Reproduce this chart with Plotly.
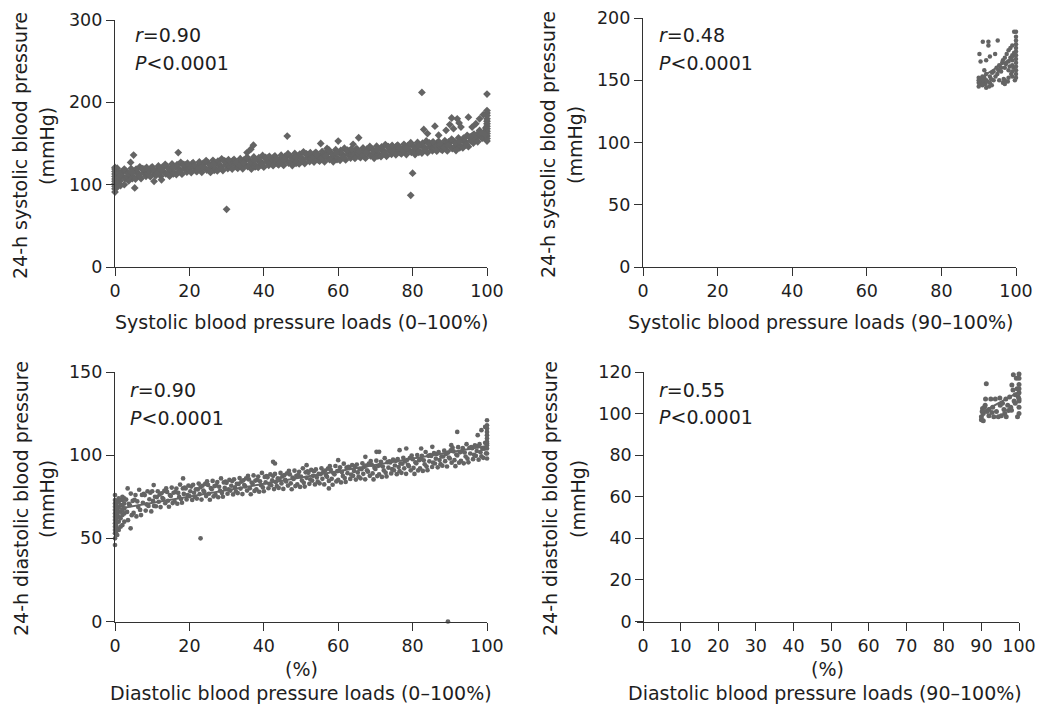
import plotly.graph_objects as go

# ---------------- data ----------------
# Panel A: systolic load 0-100 % vs 24-h SBP  (load %, mmHg)
sys_all = [
(0,91),(0,95),(0,98),(0,101),(0,104),(0,107),(0,110),(0,113),(0,116),(0,119),(0,121),
(0.3,100),(0.3,106),(0.3,112),(0.3,118),(0.6,97),(0.6,103),(0.6,109),(0.6,115),(0.6,120),
(1,114.1),(1.33,104.4),(1.67,115.2),(1.2,109),(1.5,99),
(2,110.6),(2.33,116.9),(2.67,107.3),(2.5,100),
(3,116.1),(3.33,109.2),(3.67,104.6),
(4,113.0),(4.33,119.5),(4.67,107.4),(4.2,127),
(5,108.8),(5.33,116.1),(5.67,118.7),(5,136),(5.3,96),
(6,115.2),(6.33,112.1),(6.67,121.7),
(7,107.5),(7.33,118.7),(7.67,114.4),
(8,118.7),(8.33,110.1),(8.67,113.5),
(9,112.7),(9.33,116.4),(9.67,120.1),
(10,121.7),(10.33,115.5),(10.67,112.2),(10.5,104),
(11,111.0),(11.33,118.2),(11.67,122.7),
(12,120.0),(12.33,110.3),(12.67,121.1),(12.5,106),
(13,116.4),(13.33,122.7),(13.67,113.1),
(14,121.8),(14.33,114.9),(14.67,110.3),
(15,118.6),(15.33,125.1),(15.67,113.0),
(16,114.3),(16.33,121.6),(16.67,124.2),
(17,120.6),(17.33,117.5),(17.67,127.1),(17,139),
(18,112.8),(18.33,124.0),(18.67,119.7),
(19,123.9),(19.33,115.3),(19.67,118.7),
(20,117.8),(20.33,121.5),(20.67,125.2),
(21,126.6),(21.33,120.4),(21.67,117.1),
(22,115.8),(22.33,123.0),(22.67,127.5),
(23,124.7),(23.33,115.0),(23.67,125.8),
(24,121.0),(24.33,127.3),(24.67,117.7),
(25,126.4),(25.33,119.5),(25.67,114.9),
(26,123.1),(26.33,129.6),(26.67,117.5),
(27,118.7),(27.33,126.0),(27.67,128.6),
(28,124.9),(28.33,121.8),(28.67,131.4),
(29,117.1),(29.33,128.3),(29.67,124.0),
(30,128.1),(30.33,119.5),(30.67,122.9),(30,70),
(31,121.9),(31.33,125.6),(31.67,129.3),
(32,130.7),(32.33,124.5),(32.67,121.2),
(33,119.9),(33.33,127.1),(33.67,131.6),
(34,128.9),(34.33,119.2),(34.67,130.0),
(35,125.1),(35.33,131.4),(35.67,121.8),(35.5,139),
(36,130.5),(36.33,123.6),(36.67,119.0),(36.5,143),
(37,127.2),(37.33,133.7),(37.67,121.6),(37.2,148),
(38,122.9),(38.33,130.2),(38.67,132.8),
(39,129.0),(39.33,125.9),(39.67,135.5),
(40,121.2),(40.33,132.4),(40.67,128.1),
(41,132.2),(41.33,123.6),(41.67,127.0),
(42,126.1),(42.33,129.8),(42.67,133.5),
(43,134.9),(43.33,128.7),(43.67,125.4),
(44,124.1),(44.33,131.3),(44.67,135.8),
(45,133.1),(45.33,123.4),(45.67,134.2),
(46,129.4),(46.33,135.7),(46.67,126.1),(46.3,159),
(47,134.8),(47.33,127.9),(47.67,123.3),
(48,131.5),(48.33,138.0),(48.67,125.9),
(49,127.2),(49.33,134.5),(49.67,137.1),
(50,133.4),(50.33,130.3),(50.67,139.9),
(51,125.6),(51.33,136.8),(51.67,132.5),
(52,136.6),(52.33,128.0),(52.67,131.4),
(53,130.5),(53.33,134.2),(53.67,137.9),
(54,139.3),(54.33,133.1),(54.67,129.8),
(55,128.5),(55.33,135.7),(55.67,140.2),(55.3,150),
(56,137.5),(56.33,127.8),(56.67,138.6),
(57,133.8),(57.33,140.1),(57.67,130.5),(57,144),
(58,139.2),(58.33,132.3),(58.67,127.7),
(59,135.9),(59.33,142.4),(59.67,130.3),
(60,131.6),(60.33,138.9),(60.67,141.5),(60,153),
(61,137.8),(61.33,134.7),(61.67,144.3),
(62,130.0),(62.33,141.2),(62.67,136.9),
(63,141.0),(63.33,132.4),(63.67,135.8),
(64,134.9),(64.33,138.6),(64.67,142.3),(64,149),
(65,143.7),(65.33,137.5),(65.67,134.2),(65.5,157),
(66,132.9),(66.33,140.1),(66.67,144.6),
(67,141.9),(67.33,132.2),(67.67,143.0),
(68,138.2),(68.33,144.5),(68.67,134.9),
(69,143.6),(69.33,136.7),(69.67,132.1),
(70,140.3),(70.33,146.8),(70.67,134.7),
(71,136.0),(71.33,143.3),(71.67,145.9),
(72,142.2),(72.33,139.1),(72.67,148.7),
(73,134.4),(73.33,145.6),(73.67,141.3),
(74,145.4),(74.33,136.8),(74.67,140.2),
(75,139.3),(75.33,143.0),(75.67,146.7),
(76,148.1),(76.33,141.9),(76.67,138.6),
(77,137.3),(77.33,144.5),(77.67,149.0),
(78,146.3),(78.33,136.6),(78.67,147.4),
(79,142.6),(79.33,148.9),(79.67,139.3),(79.5,87),
(80,148.0),(80.33,141.1),(80.67,136.5),(80,114),
(81,144.7),(81.33,151.2),(81.67,139.1),
(82,140.4),(82.33,147.7),(82.67,150.3),(82.5,212),
(83,146.6),(83.33,143.5),(83.67,153.1),(83,167),
(84,138.8),(84.33,150.0),(84.67,145.7),(84,162),
(85,149.8),(85.33,141.2),(85.67,144.6),
(86,143.7),(86.33,147.4),(86.67,151.1),(86,171),
(87,152.5),(87.33,146.3),(87.67,143.0),(87,160),
(88,141.7),(88.33,148.9),(88.67,153.4),
(89,150.7),(89.33,141.0),(89.67,151.8),(89,166),
(90,147.0),(90.33,153.3),(90.67,143.7),(90,173),(90.5,181),
(91,153.0),(91.33,146.1),(91.67,141.5),(91,168),
(92,150.3),(92.33,156.8),(92.67,144.7),(92,180),(92.5,175),
(93,146.6),(93.33,153.9),(93.67,156.5),(93,170),
(94,153.4),(94.33,150.3),(94.67,159.9),
(95,146.2),(95.33,157.4),(95.67,153.1),(95,182),
(96,159.2),(96.33,150.6),(96.67,154.0),(96,170),
(97,155.1),(97.33,158.8),(97.67,162.5),(97,174),
(98,165.9),(98.33,159.7),(98.67,156.4),(98,180),
(99,157.1),(99.33,164.3),(99.67,168.8),(99,185),
(100,153),(100,156),(100,159),(100,162),(100,165),(100,168),(100,171),(100,174),
(100,177),(100,180),(100,184),(100,187),(100,190),(100,210),
(1.5,111.4),(2.5,118.9),(3.5,113.7),(4.5,115.4),(5.5,106.8),(6.5,110.4),(7.5,119.4),(8.5,120.9),
(9.5,109.7),(10.5,118.2),(11.5,114.5),(12.5,117.3),(13.5,124.7),(14.5,119.4),(15.5,121.0),(16.5,112.3),
(17.5,115.8),(18.5,124.7),(19.5,126.1),(20.5,114.8),(21.5,123.1),(22.5,119.3),(23.5,122.0),(24.5,129.3),
(25.5,124.0),(26.5,125.5),(27.5,116.7),(28.5,120.1),(29.5,129.0),(30.5,130.3),(31.5,118.9),(32.5,127.2),
(33.5,123.4),(34.5,126.2),(35.5,133.4),(36.5,128.1),(37.5,129.6),(38.5,120.9),(39.5,124.2),(40.5,133.1),
(41.5,134.4),(42.5,123.1),(43.5,131.4),(44.5,127.6),(45.5,130.4),(46.5,137.7),(47.5,132.4),(48.5,133.9),
(49.5,125.2),(50.5,128.6),(51.5,137.5),(52.5,138.8),(53.5,127.5),(54.5,135.8),(55.5,132.0),(56.5,134.8),
(57.5,142.1),(58.5,136.8),(59.5,138.3),(60.5,129.6),(61.5,133.0),(62.5,141.9),(63.5,143.2),(64.5,131.9),
(65.5,140.2),(66.5,136.4),(67.5,139.2),(68.5,146.5),(69.5,141.2),(70.5,142.7),(71.5,134.0),(72.5,137.4),
(73.5,146.3),(74.5,147.6),(75.5,136.3),(76.5,144.6),(77.5,140.8),(78.5,143.6),(79.5,150.9),(80.5,145.6),
(81.5,147.1),(82.5,138.4),(83.5,141.8),(84.5,150.7),(85.5,152.0),(86.5,140.7),(87.5,149.0),(88.5,145.2),
(89.5,148.0),(90.5,155.3),(91.5,150.6),(92.5,152.7),(93.5,144.6),(94.5,148.6),(95.5,158.1),(96.5,161.4),
(97.5,152.1),(98.5,162.4),(99.5,160.6),
]

# Panel B: systolic load 90-100 %
sys_high = [
(90,145),(90,148),(90,150),(90,152),(90.3,147),(90.5,151),(90.5,165),(90.2,171),(90.8,149),
(91,146),(91,150),(91,153),(91.1,181),(91.3,148),(91.5,152),(91.5,158),(91.8,147),
(92,144),(92,150),(92,155),(92,166),(92.3,149),(92.6,181),(92.6,178),(92.8,145),
(93,148),(93,153),(93,169),(93.3,151),(93.5,146),(93.6,156),
(94,150),(94,157),(94.4,171),(94.5,153),(94.8,160),
(95.1,182),(95,155),(95.3,158),(95.5,162),(95.5,150),
(96,157),(96,160),(96.3,164),(96.5,148),(96.7,151),(96.5,166),
(97,147),(97,150),(97,160),(97,168),(97.3,163),(97.5,171),(97.8,149),
(98,152),(98,158),(98,165),(98,174),(98.3,161),(98.5,168),(98.5,176),(98.7,155),
(99,153),(99,157),(99,162),(99,166),(99,170),(99,178),(99.3,160),(99.5,172),(99.5,189),(99.7,150),
(100,152),(100,155),(100,158),(100,161),(100,164),(100,167),(100,170),(100,173),
(100,176),(100,179),(100,182),(100,185),(100,189),
]

# Panel C: diastolic load 0-100 % vs 24-h DBP
dia_all = [
(0,46),(0,50),(0,53),(0,55),(0,57),(0,59),(0,61),(0,63),(0,65),(0,67),(0,69),(0,71),(0,73),(0,76),
(0.3,54),(0.3,58),(0.3,62),(0.3,66),(0.3,70),
(0.6,52),(0.6,56),(0.6,60),(0.6,64),(0.6,68),(0.6,72),
(1,55),(1,60),(1,63),(1,66),(1,69),(1,72),(1,74),
(1.5,57),(1.5,62),(1.5,66),(1.5,70),(1.5,73),
(2,58),(2,64),(2,67),(2,70),(2,73),(2,75),
(2.5,60),(2.5,65),(2.5,68),(2.5,71),(2.5,74),
(3,73.3),(3.25,65.9),(3.5,60.9),(3.75,70.7),(3.4,80),
(4,69.9),(4.25,76.9),(4.5,63.9),(4.75,72.5),(4.2,56),
(5,65.3),(5.25,73.2),(5.5,76.0),(5.75,63.2),
(6,72.2),(6.25,68.9),(6.5,79.2),(6.75,67.1),
(7,64.0),(7.25,76.1),(7.5,71.4),(7.75,76.8),
(8,76.0),(8.25,66.7),(8.5,70.4),(8.75,78.3),
(9,69.5),(9.25,73.5),(9.5,77.4),(9.75,66.2),
(10,78.3),(10.25,72.5),(10.5,69.5),(10.75,75.0),(10.4,82),
(11,69.3),(11.25,74.8),(11.5,78.3),(11.75,72.0),
(12,76.3),(12.25,68.8),(12.5,77.1),(12.75,74.2),
(13,73.6),(13.25,78.5),(13.5,71.1),(13.75,80.0),
(14,77.9),(14.25,72.6),(14.5,69.0),(14.75,76.0),
(15,75.5),(15.25,80.5),(15.5,71.2),(15.75,77.4),
(16,72.3),(16.25,77.9),(16.5,79.9),(16.75,70.8),
(17,77.3),(17.25,74.9),(17.5,82.3),(17.75,73.6),
(18,71.4),(18.25,80.0),(18.5,76.7),(18.75,80.5),(18.3,86),
(19,80.0),(19.25,73.4),(19.5,76.0),(19.75,81.7),
(20,75.4),(20.25,78.3),(20.5,81.1),(20.75,73.1),
(21,82.2),(21.25,77.4),(21.5,74.9),(21.75,79.5),
(22,73.9),(22.25,79.4),(22.5,82.9),(22.75,76.6),
(23,80.8),(23.25,73.3),(23.5,81.6),(23.75,78.7),(23,50),
(24,77.9),(24.25,82.8),(24.5,75.4),(24.75,84.3),
(25,82.1),(25.25,76.8),(25.5,73.2),(25.75,80.2),
(26,79.5),(26.25,84.5),(26.5,75.2),(26.75,81.4),
(27,76.2),(27.25,81.8),(27.5,83.8),(27.75,74.7),
(28,81.0),(28.25,78.6),(28.5,86.0),(28.75,77.3),
(29,75.0),(29.25,83.6),(29.5,80.3),(29.75,84.1),
(30,83.4),(30.25,76.8),(30.5,79.4),(30.75,85.1),
(31,78.7),(31.25,81.6),(31.5,84.4),(31.75,76.4),
(32,85.5),(32.25,80.7),(32.5,78.2),(32.75,82.8),
(33,77.2),(33.25,82.7),(33.5,86.2),(33.75,79.9),
(34,84.1),(34.25,76.6),(34.5,84.9),(34.75,82.0),
(35,81.2),(35.25,86.1),(35.5,78.7),(35.75,87.6),
(36,85.4),(36.25,80.1),(36.5,76.5),(36.75,83.5),
(37,82.8),(37.25,87.8),(37.5,78.5),(37.75,84.7),
(38,79.5),(38.25,85.1),(38.5,87.1),(38.75,78.0),
(39,84.3),(39.25,81.9),(39.5,89.3),(39.75,80.6),
(40,78.3),(40.25,86.9),(40.5,83.6),(40.75,87.4),
(41,86.7),(41.25,80.1),(41.5,82.7),(41.75,88.4),
(42,81.9),(42.25,84.8),(42.5,87.6),(42.75,79.6),(42.5,96),
(43,88.7),(43.25,83.9),(43.5,81.4),(43.75,86.0),(43,95),
(44,80.3),(44.25,85.8),(44.5,89.3),(44.75,83.0),
(45,87.2),(45.25,79.7),(45.5,88.0),(45.75,85.1),
(46,84.2),(46.25,89.1),(46.5,81.7),(46.75,90.6),
(47,88.4),(47.25,83.1),(47.5,79.5),(47.75,86.5),
(48,85.7),(48.25,90.7),(48.5,81.4),(48.75,87.6),
(49,82.4),(49.25,88.0),(49.5,90.0),(49.75,80.9),
(50,87.1),(50.25,84.7),(50.5,92.1),(50.75,83.4),
(51,81.1),(51.25,89.7),(51.5,86.4),(51.75,90.2),(51.5,94),
(52,89.4),(52.25,82.8),(52.5,85.4),(52.75,91.1),
(53,84.7),(53.25,87.6),(53.5,90.4),(53.75,82.4),
(54,91.4),(54.25,86.6),(54.5,84.1),(54.75,88.7),
(55,83.1),(55.25,88.6),(55.5,92.1),(55.75,85.8),
(56,89.9),(56.25,82.4),(56.5,90.7),(56.75,87.8),
(57,87.0),(57.25,91.9),(57.5,84.5),(57.75,93.4),(57.5,80),
(58,91.1),(58.25,85.8),(58.5,82.2),(58.75,89.2),
(59,88.5),(59.25,93.5),(59.5,84.2),(59.75,90.4),
(60,85.1),(60.25,90.7),(60.5,92.7),(60.75,83.6),(60,97),
(61,89.9),(61.25,87.5),(61.5,94.9),(61.75,86.2),
(62,83.9),(62.25,92.5),(62.5,89.2),(62.75,93.0),
(63,92.3),(63.25,85.7),(63.5,88.3),(63.75,94.0),
(64,87.6),(64.25,90.5),(64.5,93.3),(64.75,85.3),
(65,94.4),(65.25,89.6),(65.5,87.1),(65.75,91.7),
(66,86.1),(66.25,91.6),(66.5,95.1),(66.75,88.8),
(67,93.0),(67.25,85.5),(67.5,93.8),(67.75,90.9),(67.3,99),
(68,90.1),(68.25,95.0),(68.5,87.6),(68.75,96.5),
(69,94.3),(69.25,89.0),(69.5,85.4),(69.75,92.4),
(70,91.7),(70.25,96.7),(70.5,87.4),(70.75,93.6),(70.3,102),
(71,88.4),(71.25,94.0),(71.5,96.0),(71.75,86.9),(71,102),
(72,93.2),(72.25,90.8),(72.5,98.2),(72.75,89.5),
(73,87.2),(73.25,95.8),(73.5,92.5),(73.75,96.3),
(74,95.6),(74.25,89.0),(74.5,91.6),(74.75,97.3),
(75,90.9),(75.25,93.8),(75.5,96.6),(75.75,88.6),
(76,97.7),(76.25,92.9),(76.5,90.4),(76.75,95.0),(76.5,103),
(77,89.4),(77.25,94.9),(77.5,98.4),(77.75,92.1),
(78,96.3),(78.25,88.8),(78.5,97.1),(78.75,94.2),(78.3,104),
(79,93.4),(79.25,98.3),(79.5,90.9),(79.75,99.8),
(80,97.6),(80.25,92.3),(80.5,88.7),(80.75,95.7),
(81,95.1),(81.25,100.1),(81.5,90.8),(81.75,97.0),
(82,92.0),(82.25,97.6),(82.5,99.6),(82.75,90.5),(82.3,104),
(83,96.9),(83.25,94.5),(83.5,101.9),(83.75,93.2),
(84,91.0),(84.25,99.6),(84.5,96.3),(84.75,100.1),
(85,99.5),(85.25,92.9),(85.5,95.5),(85.75,101.2),(85.3,105),
(86,95.0),(86.25,97.9),(86.5,100.7),(86.75,92.7),
(87,101.9),(87.25,97.1),(87.5,94.6),(87.75,99.2),
(88,93.7),(88.25,99.2),(88.5,102.7),(88.75,96.4),
(89,100.7),(89.25,93.2),(89.5,101.5),(89.75,98.6),(89.5,0),
(90,98.0),(90.25,102.9),(90.5,95.5),(90.75,104.4),(90.4,106),
(91,102.3),(91.25,97.0),(91.5,93.4),(91.75,100.4),
(92,99.8),(92.25,104.8),(92.5,95.5),(92.75,101.7),(92,114),
(93,96.6),(93.25,102.2),(93.5,104.2),(93.75,95.1),
(94,101.6),(94.25,99.2),(94.5,106.6),(94.75,97.9),
(95,95.7),(95.25,104.3),(95.5,101.0),(95.75,104.8),
(96,104.2),(96.25,97.6),(96.5,100.2),(96.75,105.9),
(97,99.6),(97.25,102.5),(97.5,105.3),(97.75,97.3),(97.5,112),
(98,106.6),(98.25,101.8),(98.5,99.3),(98.75,103.9),(98.5,115),
(99,98.4),(99.25,103.9),(99.5,107.4),(99.75,101.1),(99.5,117),
(100,98),(100,101),(100,104),(100,106),(100,108),(100,110),(100,112),(100,114),(100,116),(100,118),(100,121),(100,107),
]

# Panel D: diastolic load 90-100 %
dia_high = [
(90,97),(90,98.5),(90.2,101),(90.3,102.5),(90.5,100),(90.5,96.5),(90.8,103),(91,104),(91.1,107),
(91.3,114.3),(91.5,101),(92,102),(92,99),(92.5,107),(92.8,100.5),(93,103),(93.3,98.5),(93.7,107),
(94,101),(94.5,98.5),(94.9,107.5),(95,104),(95.3,99),(95.6,105),(96,102),(96.2,100),(96.5,107),
(96.6,98.5),(97,104),(97.2,101.5),(97.5,108),(97.8,103),(98,101.6),(98.1,113.8),(98.4,111.4),
(98.5,118.7),(98.7,106),(99,109),(99,105),(99.3,117),(99.5,112),(99.6,98.5),(99.8,108),
(100,100),(100,103),(100,106),(100,107),(100,110),(100,112),(100,114),(100,117),(100,119),
]

# regression lines (end points, load % -> mmHg)
dia_all_fit_x = [0, 100]
dia_all_fit_y = [67.5, 105.5]
sys_high_fit_x = [90, 100]
sys_high_fit_y = [151, 170]
dia_high_fit_x = [90, 100]
dia_high_fit_y = [100.5, 110.5]

stats_r = ["0.90", "0.48", "0.90", "0.55"]
stats_p = ["0.0001", "0.0001", "0.0001", "0.0001"]

y_title_1 = ["24-h systolic blood pressure", "24-h systolic blood pressure",
             "24-h diastolic blood pressure", "24-h diastolic blood pressure"]
y_title_2 = ["(mmHg)", "(mmHg)", "(mmHg)", "(mmHg)"]
x_titles = ["Systolic blood pressure loads (0\u2013100%)", "Systolic blood pressure loads (90\u2013100%)",
            "Diastolic blood pressure loads (0\u2013100%)", "Diastolic blood pressure loads (90\u2013100%)"]
x_units = ["(%)", "(%)"]

# ---------------- figure ----------------
W, H = 1039, 704
FONT = "DejaVu Sans, Verdana, sans-serif"
MK = "rgb(100,100,100)"
AX = "rgb(50,50,50)"
TX = "rgb(30,30,30)"
FS_TICK = 17.5
FS_TXT = 19

def px(v):
    return v / W

def py(v):
    return 1 - v / H

fig = go.Figure()

def add_pts(data, xa, ya, symbol, size):
    fig.add_trace(go.Scatter(x=[p[0] for p in data], y=[p[1] for p in data], mode="markers",
                             xaxis=xa, yaxis=ya, cliponaxis=False,
                             marker=dict(symbol=symbol, size=size, color=MK, line=dict(width=0)),
                             showlegend=False, hoverinfo="skip"))

add_pts(sys_all, "x", "y", "diamond", 6)
add_pts(sys_high, "x2", "y2", "circle", 4.5)
add_pts(dia_all, "x3", "y3", "circle", 4.7)
add_pts(dia_high, "x4", "y4", "circle", 5)

for fx, fy, xa, ya in [(sys_high_fit_x, sys_high_fit_y, "x2", "y2"),
                       (dia_all_fit_x, dia_all_fit_y, "x3", "y3"),
                       (dia_high_fit_x, dia_high_fit_y, "x4", "y4")]:
    fig.add_trace(go.Scatter(x=fx, y=fy, mode="lines", xaxis=xa, yaxis=ya,
                             line=dict(color=MK, width=2), showlegend=False, hoverinfo="skip"))

axis_common = dict(showline=True, linecolor=AX, linewidth=1.3, ticks="outside", ticklen=8,
                   tickwidth=1.3, tickcolor=AX, showgrid=False, zeroline=False,
                   tickfont=dict(family=FONT, size=FS_TICK, color=TX), automargin=False, fixedrange=True)

# pixel boxes of the four panels
L1, R1 = 115, 487
L2, R2 = 643, 1016
L4, R4 = 637, 1019
T1, B1 = 20, 267
T2 = 18
T3, B3 = 372, 621.5

fig.update_layout(
    width=W, height=H, margin=dict(l=0, r=0, t=0, b=0),
    paper_bgcolor="white", plot_bgcolor="white",
    font=dict(family=FONT, size=FS_TXT, color=TX),
    xaxis=dict(axis_common, domain=[px(L1), px(R1)], range=[0, 100], tickvals=[0, 20, 40, 60, 80, 100], anchor="y"),
    yaxis=dict(axis_common, domain=[py(B1), py(T1)], range=[0, 300], tickvals=[0, 100, 200, 300], anchor="x"),
    xaxis2=dict(axis_common, domain=[px(L2), px(R2)], range=[0, 100], tickvals=[0, 20, 40, 60, 80, 100], anchor="y2"),
    yaxis2=dict(axis_common, domain=[py(B1), py(T2)], range=[0, 200], tickvals=[0, 50, 100, 150, 200], anchor="x2"),
    xaxis3=dict(axis_common, domain=[px(L1), px(R1)], range=[0, 100], tickvals=[0, 20, 40, 60, 80, 100], anchor="y3"),
    yaxis3=dict(axis_common, domain=[py(B3), py(T3)], range=[0, 150], tickvals=[0, 50, 100, 150], anchor="x3"),
    xaxis4=dict(axis_common, domain=[px(L4), px(R4)], range=[-1.6, 100],
                tickvals=[0, 10, 20, 30, 40, 50, 60, 70, 80, 90, 100], anchor="y4"),
    yaxis4=dict(axis_common, domain=[py(B3), py(T3)], range=[0, 120], tickvals=[0, 20, 40, 60, 80, 100, 120],
                anchor="free", position=px(643.4)),
)

ann = []
def note(text, x, y, xanchor="center", angle=0):
    ann.append(dict(text=text, x=px(x), y=py(y), xref="paper", yref="paper", textangle=angle,
                    xanchor=xanchor, yanchor="middle", showarrow=False,
                    font=dict(family=FONT, size=FS_TXT, color=TX)))

# stats text
for i, (lx, ry, pyy) in enumerate([(133, 35, 63), (657, 35, 63), (128, 390, 418), (657, 390, 417)]):
    note("<i>r</i>=" + stats_r[i], lx, ry, "left")
    note("<i>P</i>&lt;" + stats_p[i], lx, pyy, "left")
# y titles (two lines, rotated)
for i, (c1, c2, cy) in enumerate([(20, 47, 146), (548, 575, 145), (21, 47, 499), (550, 578, 499)]):
    note(y_title_1[i], c1, cy, angle=-90)
    note(y_title_2[i], c2, cy, angle=-90)
# x titles
for i, (cx, cy) in enumerate([(301, 322), (820, 322), (301, 693), (825, 693)]):
    note(x_titles[i], cx, cy)
for i, (cx, cy) in enumerate([(301, 669), (827, 669)]):
    note(x_units[i], cx, cy)
fig.update_layout(annotations=ann)

fig.write_html("out.html", config={"displayModeBar": False},
               post_script="document.body.style.margin='0';document.body.style.overflow='hidden';")
